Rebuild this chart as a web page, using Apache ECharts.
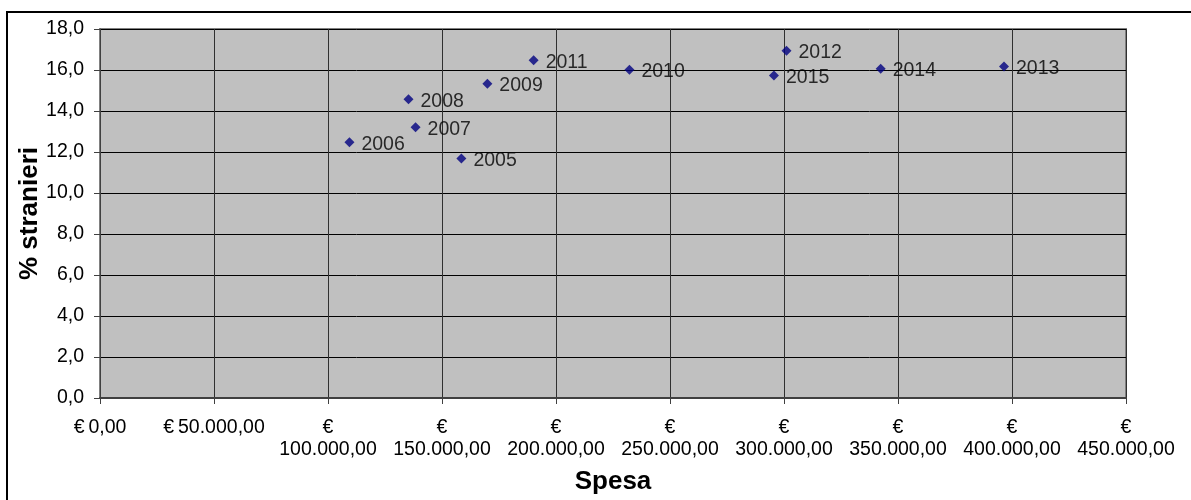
<!DOCTYPE html>
<html>
<head>
<meta charset="utf-8">
<script src="https://cdn.jsdelivr.net/npm/echarts@6/dist/echarts.min.js"></script>
<style>
  html, body { margin: 0; padding: 0; background: #fff; }
  #chart { width: 1191px; height: 500px; }
</style>
</head>
<body>
<div id="chart"></div>
<script>
// Spending (€) vs share of foreign residents (%), one point per year
const years = ['2005', '2006', '2007', '2008', '2009', '2010', '2011', '2012', '2013', '2014', '2015'];
const spesa = [158500, 109400, 138400, 135300, 169900, 232200, 190200, 301100, 396500, 342400, 295600];
const stranieri = [11.68, 12.48, 13.21, 14.57, 15.33, 16.01, 16.47, 16.94, 16.17, 16.06, 15.73];

const xTicks = [0, 50000, 100000, 150000, 200000, 250000, 300000, 350000, 400000, 450000];
const yTicks = [0, 2, 4, 6, 8, 10, 12, 14, 16, 18];

const FONT = '"Liberation Sans", Arial, sans-serif';
const TEXT_SIZE = 19.5;

function euro(v) {
  const s = Math.round(v).toString().replace(/\B(?=(\d{3})+(?!\d))/g, '.') + ',00';
  return v < 100000 ? '€\u2009' + s : '€\n' + s;
}

const points = years.map((y, i) => ({ value: [spesa[i], stranieri[i]], name: y }));

const chart = echarts.init(document.getElementById('chart'), null, { renderer: 'canvas' });
chart.setOption({
  animation: false,
  backgroundColor: '#ffffff',
  graphic: [{
    type: 'rect',
    shape: { x: 7, y: 12, width: 1200, height: 500 },
    style: { fill: 'none', stroke: '#000', lineWidth: 2 },
    silent: true,
    z: 100
  }],
  grid: {
    left: 100, top: 29, right: 65, bottom: 99,
    show: true, backgroundColor: '#c0c0c0', borderColor: '#808080', borderWidth: 2
  },
  xAxis: {
    type: 'value',
    min: xTicks[0], max: xTicks[xTicks.length - 1], interval: 50000,
    name: 'Spesa', nameLocation: 'middle', nameGap: 71, nameMoveOverlap: false,
    nameTextStyle: { fontFamily: FONT, fontSize: 26, fontWeight: 'bold', color: '#000' },
    axisLine: { show: true, onZero: false, lineStyle: { color: '#404040', width: 2 } },
    axisTick: { show: true, length: 6, lineStyle: { color: '#404040' } },
    axisLabel: {
      formatter: euro, fontFamily: FONT, fontSize: TEXT_SIZE, color: '#000',
      margin: 19, lineHeight: 22, verticalAlign: 'top'
    },
    splitLine: { show: true, lineStyle: { color: '#303030', width: 1 } }
  },
  yAxis: {
    type: 'value',
    min: yTicks[0], max: yTicks[yTicks.length - 1], interval: 2,
    name: '% stranieri', nameLocation: 'middle', nameGap: 57, nameMoveOverlap: false,
    nameTextStyle: { fontFamily: FONT, fontSize: 26, fontWeight: 'bold', color: '#000' },
    axisLine: { show: true, lineStyle: { color: '#404040', width: 1 } },
    axisTick: { show: true, length: 6, lineStyle: { color: '#404040' } },
    axisLabel: {
      formatter: v => v.toFixed(1).replace('.', ','),
      fontFamily: FONT, fontSize: TEXT_SIZE, color: '#000', margin: 16
    },
    splitLine: { show: true, lineStyle: { color: '#000', width: 1 } }
  },
  series: [{
    type: 'scatter',
    data: points,
    symbol: 'diamond',
    symbolSize: 10,
    itemStyle: { color: '#000080' },
    label: {
      show: true, position: 'right', distance: 7,
      formatter: p => p.name,
      fontFamily: FONT, fontSize: TEXT_SIZE, color: '#000',
      offset: [0, 2]
    }
  }]
});
</script>
</body>
</html>
